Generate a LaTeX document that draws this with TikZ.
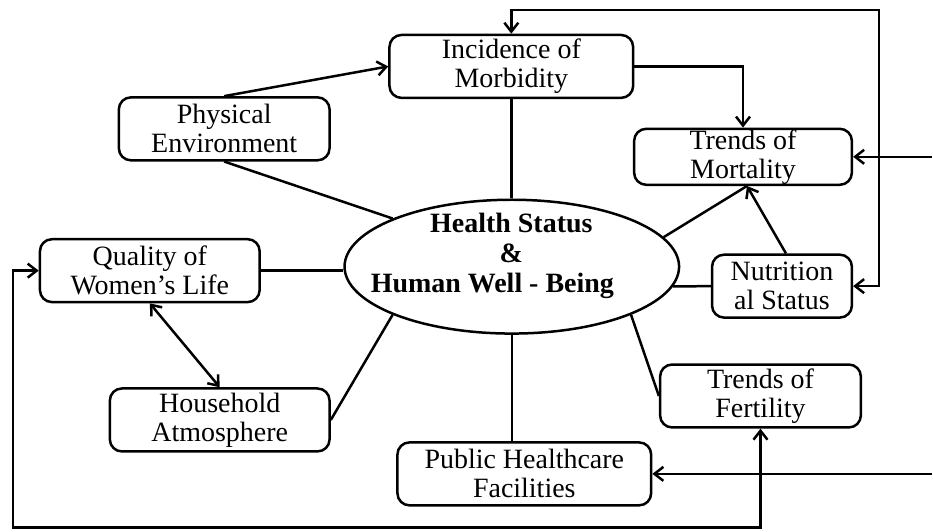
\documentclass[tikz,border=0pt]{standalone}
\usepackage{fontspec}
\setmainfont{Liberation Serif}
\usetikzlibrary{arrows.meta,positioning,calc,shapes.geometric}

\begin{document}
\begin{tikzpicture}[
  x=0.5pt,y=-0.5pt,
  box/.style={draw,line width=1.25pt,rounded corners=6pt,align=center,
              inner sep=0pt,minimum height=31.5pt,font=\fontsize{14}{14.5}\selectfont},
  hub/.style={draw,ellipse,line width=1.25pt,inner sep=0pt,
              minimum width=167.5pt,minimum height=67pt},
  hubtext/.style={align=center,inner sep=0pt,font=\fontsize{14}{15}\selectfont\bfseries},
  link/.style={line width=1.25pt},
  arr/.style={link,-{Straight Barb[length=4.5pt,width=7pt]}},
  darr/.style={link,{Straight Barb[length=4.5pt,width=7pt]}-{Straight Barb[length=4.5pt,width=7pt]}}
]
\fill[white] (0,0) rectangle (933,532);

% centre
\node[hub] (hs) at (512.5,267) {};
\node[hubtext] (hst) at (512,256) {Health Status\\\&\\\hspace*{-19pt}Human Well - Being};

% factors around it
\node[box,minimum width=122pt] (morb) at (512,66.5) {Incidence of\\Morbidity};
\node[box,minimum width=109pt,minimum height=28pt] (mort) at (744,157) {Trends of\\Mortality};
\node[box,minimum width=70pt] (nutr) at (783,286.5) {Nutrition\\al Status};
\node[box,minimum width=105.5pt] (phys) at (224.5,129) {Physical\\Environment};
\node[box,minimum width=110pt] (qual) at (150,271) {Quality of\\Women's Life};
\node[box,minimum width=110pt] (hous) at (220,420.5) {Household\\Atmosphere};
\node[box,minimum width=127pt] (pub) at (525,474.5) {Public Healthcare\\Facilities};
\node[box,minimum width=100.5pt] (fert) at (761.5,396.5) {Trends of\\Fertility};

% loose ends at the page border
\coordinate (tr) at (880,10);
\coordinate (bl) at (13,528);
\coordinate (rm) at (933,157);
\coordinate (rp) at (933,474.5);

% plain links to the centre
\draw[link] (morb.south) -- (morb.south |- hs.north);
\draw[link] (phys.south) -- (hs.158.5);
\draw[link] (qual.east) -- (qual.east -| hs.west);
\draw[link] (hous.east) -- (hs.202.7);
\draw[link] (hs.south) -- (hs.south |- pub.north);
\draw[link] (hs.-22.7) -- (fert.west);
\draw[link] (nutr.west) -- (hs.-7);
\draw[link] (hs.11.3) -- ([xshift=2pt]mort.south);

% arrows
\draw[arr] (phys.north) -- (morb.west);
\draw[arr] (morb.east) -| (mort.north);
\draw[arr] ([xshift=2pt]nutr.north) -- ([xshift=2pt]mort.south);
\draw[arr] (rm) -- (mort.east);
\draw[arr] (rp) -- (pub.east);
\draw[darr] (qual.south) -- (hous.north);
\draw[darr] (morb.north) |- (tr) |- (nutr.east);
\draw[darr] (qual.west) -| (bl) -| (fert.south);
\end{tikzpicture}
\end{document}
